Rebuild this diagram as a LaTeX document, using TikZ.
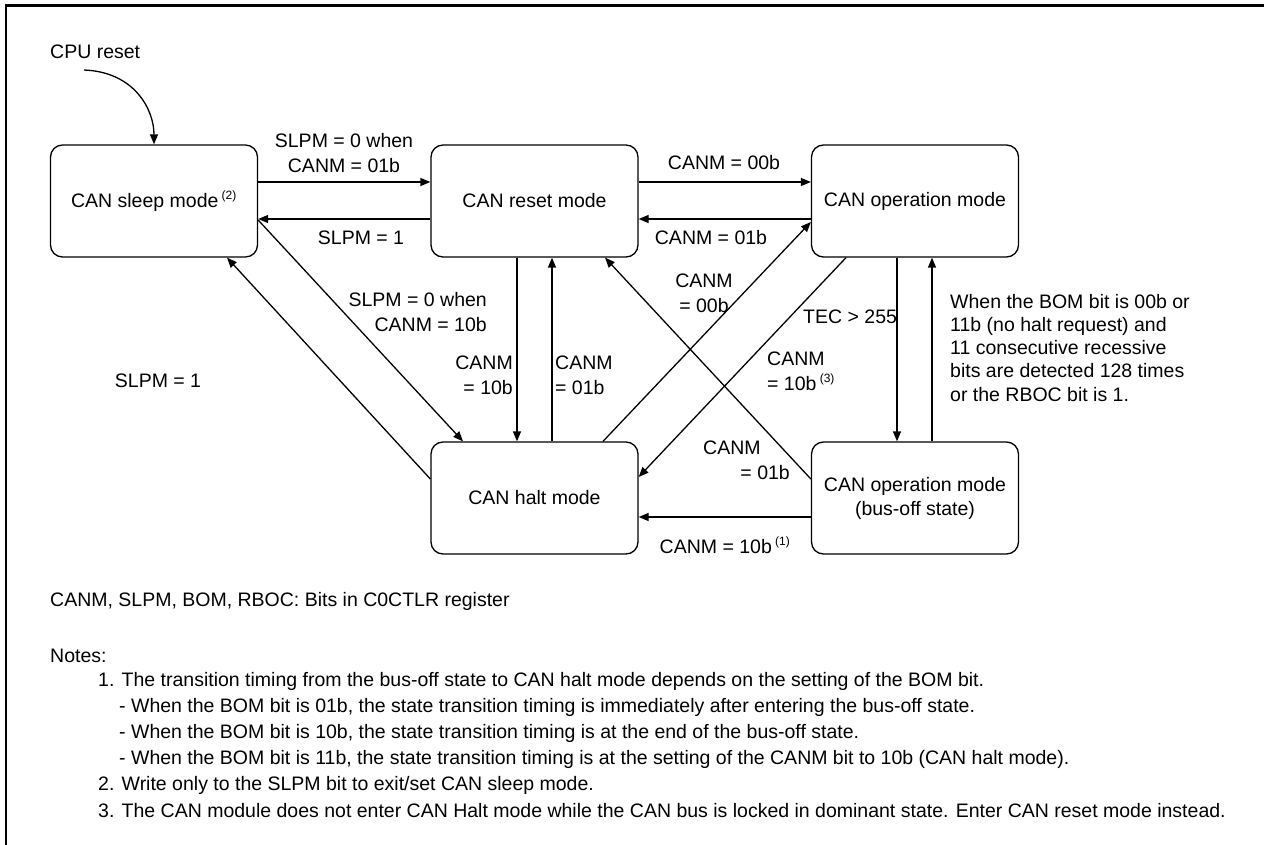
\documentclass[tikz,border=0pt]{standalone}
\usepackage{fontspec}
\setmainfont{Liberation Sans}
\usetikzlibrary{arrows.meta}
\begin{document}
\begin{tikzpicture}[x=1pt,y=-1pt,
  mode/.style={draw,line width=1.3pt,rounded corners=12pt,minimum width=207pt,minimum height=112pt,inner sep=0pt,align=center,font=\fontsize{19.5}{24}\selectfont},
  lbl/.style={inner sep=0pt,font=\fontsize{19.5}{25}\selectfont},
  note/.style={inner sep=0pt,anchor=west,font=\fontsize{19.5}{21}\selectfont},
  arr/.style={line width=1.3pt,-{Triangle[length=10pt,width=8pt]}}]
\useasboundingbox (0,0) rectangle (1264,845);
% frame
\draw[line width=3pt] (5,6) -- (1264,6);
\draw[line width=2.5pt] (6,5) -- (6,845);
% states
\node[mode] (sleep) at (154,201) {CAN sleep mode\,\textsuperscript{\fontsize{12}{12}\selectfont(2)}};
\node[mode] (reset) at (534.5,201) {CAN reset mode};
\node[mode] (oper) at (915,201) {CAN operation mode};
\node[mode] (halt) at (534.5,498) {CAN halt mode};
\node[mode] (busoff) at (915,498) {CAN operation mode\\(bus-off state)};
% CPU reset
\node[lbl,anchor=west] (cpu) at (50,52) {CPU reset};
\coordinate (cpustart) at (84,70);
\draw[arr] (cpustart) .. controls (135,72) and (154,110) .. (sleep.north);
% horizontal transitions
\draw[arr] ([yshift=19pt]sleep.east) -- ([yshift=19pt]reset.west);
\draw[arr] ([yshift=-18pt]reset.west) -- ([yshift=-18pt]sleep.east);
\draw[arr] ([yshift=19pt]reset.east) -- ([yshift=19pt]oper.west);
\draw[arr] ([yshift=-18pt]oper.west) -- ([yshift=-18pt]reset.east);
\draw[arr] ([yshift=-19pt]busoff.west) -- ([yshift=-19pt]halt.east);
% vertical transitions
\draw[arr] ([xshift=-17.5pt]reset.south) -- ([xshift=-17.5pt]halt.north);
\draw[arr] ([xshift=17.5pt]halt.north) -- ([xshift=17.5pt]reset.south);
\draw[arr] ([xshift=-18pt]oper.south) -- ([xshift=-18pt]busoff.north);
\draw[arr] ([xshift=17pt]busoff.north) -- ([xshift=17pt]oper.south);
% diagonal transitions
\draw[arr] ([yshift=-19pt]sleep.east) -- ([xshift=-71.5pt]halt.north);
\draw[arr] ([yshift=19pt]halt.west) -- ([xshift=73pt]sleep.south);
\draw[arr] ([xshift=68.5pt]halt.north) -- ([yshift=-21pt]oper.west);
\draw[arr] ([xshift=-69pt]oper.south) -- ([yshift=21pt]halt.east);
\draw[arr] ([yshift=19pt]busoff.west) -- ([xshift=70.5pt]reset.south);
% labels
\node[lbl,align=center] (l1) at (344,153) {SLPM = 0 when\\CANM = 01b};
\node[lbl] (l2) at (361,238) {SLPM = 1};
\node[lbl] (l3) at (724,163) {CANM = 00b};
\node[lbl] (l4) at (711,238) {CANM = 01b};
\node[lbl,align=right,anchor=east] (l5) at (487,312) {SLPM = 0 when\\CANM = 10b};
\node[lbl,align=right,anchor=east] (l6) at (513,375) {CANM\\= 10b};
\node[lbl,align=left,anchor=west] (l7) at (555,375) {CANM\\= 01b};
\node[lbl,align=center] (l8) at (704,293) {CANM\\= 00b};
\node[lbl,anchor=west] (l9) at (803,317) {TEC > 255};
\node[lbl,align=left,anchor=west] (l10) at (767,371) {CANM\\= 10b\,\textsuperscript{\fontsize{12}{12}\selectfont(3)}};
\node[lbl,anchor=west] (l11a) at (703,448) {CANM};
\node[lbl,anchor=east] (l11b) at (790,473) {= 01b};
\node[lbl] (l12) at (725,545) {CANM = 10b\,\textsuperscript{\fontsize{12}{12}\selectfont(1)}};
\node[lbl] (l13) at (158,381) {SLPM = 1};
\node[lbl,align=left,anchor=north west,font=\fontsize{19.5}{23.2}\selectfont] (l14) at (950,294) {When the BOM bit is 00b or\\11b (no halt request) and\\11 consecutive recessive\\bits are detected 128 times\\or the RBOC bit is 1.};
% notes
\node[note] (n0) at (50,601) {CANM, SLPM, BOM, RBOC: Bits in C0CTLR register};
\node[note] (n1) at (50,656) {Notes:};
\node[note] (n2) at (98,681) {1. The transition timing from the bus-off state to CAN halt mode depends on the setting of the BOM bit.};
\node[note] (n3) at (119,707) {- When the BOM bit is 01b, the state transition timing is immediately after entering the bus-off state.};
\node[note] (n4) at (119,733) {- When the BOM bit is 10b, the state transition timing is at the end of the bus-off state.};
\node[note] (n5) at (119,759) {- When the BOM bit is 11b, the state transition timing is at the setting of the CANM bit to 10b (CAN halt mode).};
\node[note] (n6) at (98,785) {2. Write only to the SLPM bit to exit/set CAN sleep mode.};
\node[note] (n7) at (98,811) {3. The CAN module does not enter CAN Halt mode while the CAN bus is locked in dominant state. Enter CAN reset mode instead.};
\end{tikzpicture}
\end{document}
